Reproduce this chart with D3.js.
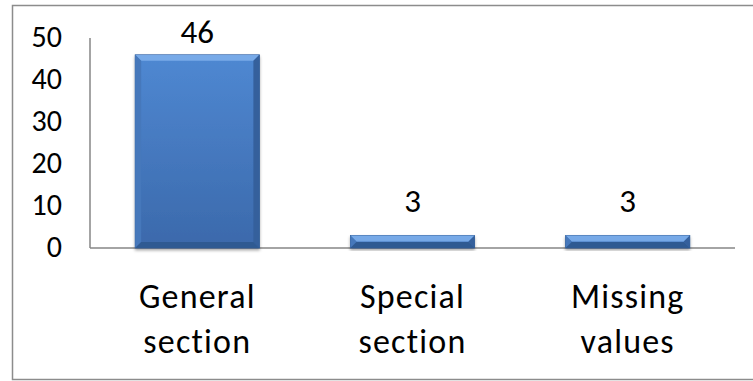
<!DOCTYPE html>
<html>
<head>
<meta charset="utf-8">
<script src="https://cdn.jsdelivr.net/npm/d3@7"></script>
<style>
  body { margin: 0; background: #fff; }
  svg { display: block; font-family: Carlito, "Open Sans", "Liberation Sans", sans-serif; }
</style>
</head>
<body>
<svg id="chart" width="753" height="381"></svg>
<script>
// data
var categories = [["General", "section"], ["Special", "section"], ["Missing", "values"]];
var values = [46, 3, 3];
var yTicks = [0, 10, 20, 30, 40, 50];

var svg = d3.select("#chart");
var width = 753, height = 381;
var margin = { top: 38, right: 18, bottom: 133, left: 90 };

// outer frame (right side runs off the picture)
svg.append("rect")
    .attr("x", 12.5).attr("y", 5.5)
    .attr("width", 760).attr("height", 374)
    .style("fill", "none")
    .style("stroke", "#8c8c8c")
    .style("stroke-width", 1.5);

var x = d3.scaleBand()
    .domain(d3.range(values.length))
    .range([margin.left, width - margin.right])
    .paddingInner(0.423)
    .paddingOuter(0.21);

var y = d3.scaleLinear()
    .domain([0, 50])
    .range([height - margin.bottom, margin.top]);

var defs = svg.append("defs");
var grad = defs.append("linearGradient")
    .attr("id", "barGrad")
    .attr("x1", 0).attr("y1", 0).attr("x2", 0).attr("y2", 1);
grad.append("stop").attr("offset", "0%").attr("stop-color", "#4f88d2");
grad.append("stop").attr("offset", "100%").attr("stop-color", "#3b69ab");

var shadow = defs.append("filter").attr("id", "shadow")
    .attr("x", "-10%").attr("y", "-10%").attr("width", "120%").attr("height", "130%");
shadow.append("feDropShadow")
    .attr("dx", 0).attr("dy", 2).attr("stdDeviation", 1.5)
    .attr("flood-color", "#000").attr("flood-opacity", 0.35);

// axes lines
svg.append("line")
    .attr("x1", margin.left).attr("x2", margin.left)
    .attr("y1", y(50)).attr("y2", y(0))
    .style("stroke", "#868686").style("stroke-width", 1.5);
svg.append("line")
    .attr("x1", margin.left).attr("x2", width - margin.right)
    .attr("y1", y(0)).attr("y2", y(0))
    .style("stroke", "#868686").style("stroke-width", 1.5);

// y tick labels
svg.append("g").selectAll("text")
    .data(yTicks)
    .enter()
    .append("text")
    .attr("x", 62)
    .attr("y", d => y(d) + 9)
    .attr("text-anchor", "end")
    .attr("font-size", 30)
    .attr("fill", "#000")
    .text(d => d);

// bars
var bars = svg.append("g").selectAll("g")
    .data(values)
    .enter()
    .append("g");

bars.append("rect")
    .attr("x", (d, i) => x(i))
    .attr("y", d => y(d))
    .attr("width", x.bandwidth())
    .attr("height", d => y(0) - y(d))
    .attr("fill", "url(#barGrad)")
    .attr("stroke", "#2f5a94")
    .attr("stroke-width", 0.8)
    .attr("filter", "url(#shadow)");

// bevel edges
bars.each(function(d, i) {
    var g = d3.select(this);
    var x0 = x(i), x1 = x(i) + x.bandwidth();
    var y0 = y(d), y1 = y(0);
    var b = Math.min(6, (y1 - y0) / 2);
    g.append("polygon")
        .attr("points", [[x0, y0], [x1, y0], [x1 - b, y0 + b], [x0 + b, y0 + b]].join(" "))
        .attr("fill", "#7fb0ec").attr("opacity", 0.85);
    g.append("polygon")
        .attr("points", [[x0, y0], [x0 + b, y0 + b], [x0 + b, y1 - b], [x0, y1]].join(" "))
        .attr("fill", "#4678bb");
    g.append("polygon")
        .attr("points", [[x1, y0], [x1 - b, y0 + b], [x1 - b, y1 - b], [x1, y1]].join(" "))
        .attr("fill", "#35609c");
    g.append("polygon")
        .attr("points", [[x0, y1], [x0 + b, y1 - b], [x1 - b, y1 - b], [x1, y1]].join(" "))
        .attr("fill", "#2f5a92");
});

// value labels (kept inside the chart area like the original)
bars.append("text")
    .attr("x", (d, i) => x(i) + x.bandwidth() / 2)
    .attr("y", d => Math.max(y(d) - 23, 43))
    .attr("text-anchor", "middle")
    .attr("font-size", 33)
    .attr("fill", "#000")
    .text(d => d);

// category labels
var cat = svg.append("g").selectAll("text")
    .data(categories)
    .enter()
    .append("text")
    .attr("text-anchor", "middle")
    .attr("font-size", 34)
    .attr("letter-spacing", 1.2)
    .attr("fill", "#000");
cat.selectAll("tspan")
    .data((d, i) => d.map(t => ({ t: t, i: i })))
    .enter()
    .append("tspan")
    .attr("x", d => x(d.i) + x.bandwidth() / 2)
    .attr("y", (d, j) => 308 + j * 45)
    .text(d => d.t);
</script>
</body>
</html>
